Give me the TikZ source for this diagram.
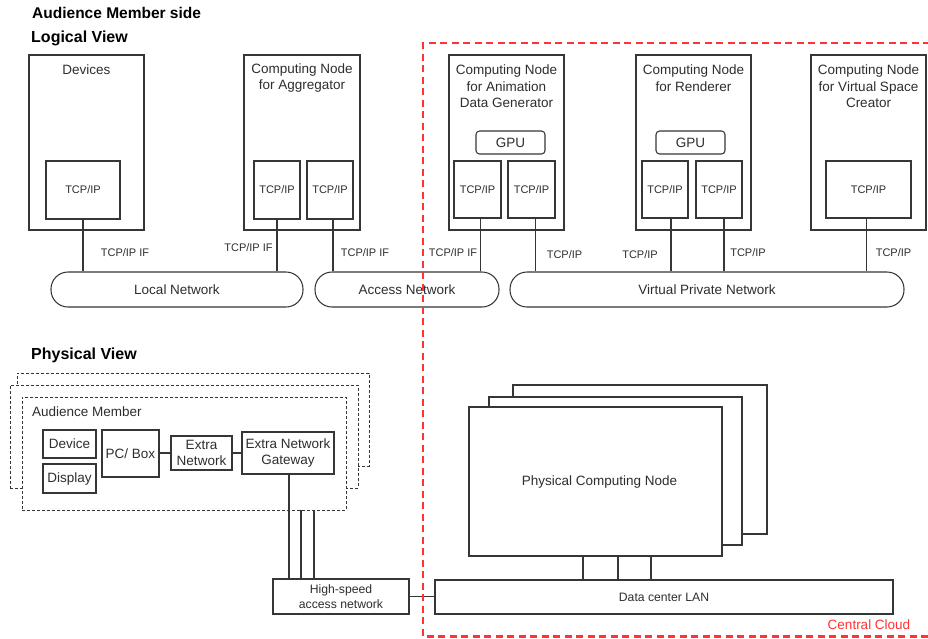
\documentclass[tikz,border=0pt]{standalone}
\usepackage{fontspec}
\setmainfont{Liberation Sans}
\definecolor{linec}{HTML}{363636}
\definecolor{textc}{HTML}{2E2E2E}
\definecolor{cloudred}{HTML}{FF3333}
\begin{document}
\begin{tikzpicture}[x=1pt,y=-1pt,
  box/.style={draw=linec, line width=1.05pt, fill=white, inner sep=0pt},
  dbox/.style={draw=linec, line width=0.9pt, fill=white, inner sep=0pt, dash pattern=on 3pt off 2pt},
  net/.style={box, rounded corners=17pt},
  gpu/.style={box, rounded corners=3.5pt, font=\fontsize{13.5}{16}\selectfont, text=textc},
  txt/.style={font=\fontsize{13.5}{16.5}\selectfont, text=textc, align=center, inner sep=0pt},
  smalltxt/.style={font=\fontsize{11}{13}\selectfont, text=textc, align=center, inner sep=0pt},
  midtxt/.style={font=\fontsize{12.2}{15}\selectfont, text=textc, align=center, inner sep=0pt},
  title/.style={font=\bfseries\fontsize{16}{19}\selectfont, text=black, anchor=west, inner sep=0pt},
  conn/.style={draw=linec, line width=1.05pt},
  reddash/.style={draw=cloudred, line width=2.2pt, dash pattern=on 7pt off 4.5pt}
]
\useasboundingbox (0,0) rectangle (928,638);

% ---------- titles ----------
\node[title, font=\bfseries\fontsize{15.5}{18}\selectfont] (t1) at (32,13) {Audience Member side};
\node[title] (t2) at (31,38) {Logical View};
\node[title] (t3) at (31,355) {Physical View};

% ---------- logical view: host boxes ----------
\node[box, minimum width=115, minimum height=175] (dev) at (86.5,142.5) {};
\node[txt] (devlab) at (86.5,70) {Devices};
\node[box, minimum width=74, minimum height=58, smalltxt] (devtcp) at (83,190) {TCP/IP};

\node[box, minimum width=116, minimum height=175] (agg) at (302,142.5) {};
\node[txt] (agglab) at (302,78) {Computing Node\\for Aggregator};
\node[box, minimum width=46, minimum height=58, smalltxt] (aggtcp1) at (277,190) {TCP/IP};
\node[box, minimum width=46, minimum height=58, smalltxt] (aggtcp2) at (330,190) {TCP/IP};

\node[box, minimum width=115, minimum height=175] (ani) at (506.5,142.5) {};
\node[txt] (anilab) at (506.5,86.5) {Computing Node\\for Animation\\Data Generator};
\node[gpu, minimum width=69, minimum height=23] (gpu1) at (510.5,142.5) {GPU};
\node[box, minimum width=47, minimum height=57, smalltxt] (anitcp1) at (477.5,189.5) {TCP/IP};
\node[box, minimum width=47, minimum height=57, smalltxt] (anitcp2) at (531.5,189.5) {TCP/IP};

\node[box, minimum width=115, minimum height=175] (ren) at (693.5,142.5) {};
\node[txt] (renlab) at (693.5,78) {Computing Node\\for Renderer};
\node[gpu, minimum width=69, minimum height=23] (gpu2) at (690.5,142.5) {GPU};
\node[box, minimum width=46, minimum height=57, smalltxt] (rentcp1) at (665,189.5) {TCP/IP};
\node[box, minimum width=46, minimum height=57, smalltxt] (rentcp2) at (719,189.5) {TCP/IP};

\node[box, minimum width=115, minimum height=175] (vsc) at (868.5,142.5) {};
\node[txt] (vsclab) at (868.5,86.5) {Computing Node\\for Virtual Space\\Creator};
\node[box, minimum width=85, minimum height=57, smalltxt] (vsctcp) at (868.5,189.5) {TCP/IP};

% ---------- logical view: networks ----------
\node[net, minimum width=252, minimum height=35, txt] (local) at (177,289.5) {Local Network};
\node[net, minimum width=184, minimum height=35, txt] (access) at (407,289.5) {Access Network};
\node[net, minimum width=394, minimum height=35, txt] (vpn) at (707,289.5) {Virtual Private Network};

% ---------- logical view: connectors ----------
\draw[conn] (devtcp.south) -- (devtcp.south |- local.north);
\draw[conn] (aggtcp1.south) -- (aggtcp1.south |- local.north);
\draw[conn] ([xshift=3pt]aggtcp2.south) -- ([xshift=3pt]aggtcp2.south |- access.north);
\draw[conn] ([xshift=3pt]anitcp1.south) -- ([xshift=3pt]anitcp1.south |- access.north);
\draw[conn] ([xshift=4pt]anitcp2.south) -- ([xshift=4pt]anitcp2.south |- vpn.north);
\draw[conn] ([xshift=6pt]rentcp1.south) -- ([xshift=6pt]rentcp1.south |- vpn.north);
\draw[conn] ([xshift=5pt]rentcp2.south) -- ([xshift=5pt]rentcp2.south |- vpn.north);
\draw[conn] ([xshift=-2pt]vsctcp.south) -- ([xshift=-2pt]vsctcp.south |- vpn.north);

\node[smalltxt] (l1) at (125,253) {TCP/IP IF};
\node[smalltxt] (l2) at (248.5,248) {TCP/IP IF};
\node[smalltxt] (l3) at (365,253) {TCP/IP IF};
\node[smalltxt] (l4) at (453,253) {TCP/IP IF};
\node[smalltxt] (l5) at (564.5,255) {TCP/IP};
\node[smalltxt] (l6) at (640,255) {TCP/IP};
\node[smalltxt] (l7) at (748,253) {TCP/IP};
\node[smalltxt] (l8) at (893.5,253) {TCP/IP};

% ---------- physical view: audience members ----------
\node[box, minimum width=136, minimum height=35, midtxt] (hs) at (341,596.5) {High-speed\\access network};

\node[dbox, minimum width=352, minimum height=93] (amback) at (193,419.5) {};
\node[dbox, minimum width=348, minimum height=103] (ammid) at (184,436.5) {};
\node[dbox, minimum width=324, minimum height=113] (amfront) at (184,453.5) {};
\node[txt, anchor=west] (amlab) at (32,412) {Audience Member};

\node[box, minimum width=53, minimum height=28, txt] (device) at (69.5,444) {Device};
\node[box, minimum width=53, minimum height=29, txt] (display) at (69.5,478.5) {Display};
\node[box, minimum width=57, minimum height=47, txt] (pc) at (130.5,453.5) {PC/ Box};
\node[box, minimum width=61, minimum height=34, txt] (extra) at (201.5,453) {Extra\\Network};
\node[box, minimum width=92, minimum height=42, txt] (gw) at (288,453) {Extra Network\\Gateway};

\draw[conn] (pc.east |- extra.west) -- (extra.west);
\draw[conn] (extra.east) -- (gw.west |- extra.east);
\draw[conn] ([xshift=1pt]gw.south) -- ([xshift=1pt]gw.south |- hs.north);
\draw[conn] ([xshift=13pt]gw.south |- amfront.south) -- ([xshift=13pt]gw.south |- hs.north);
\draw[conn] ([xshift=26pt]gw.south |- amfront.south) -- ([xshift=26pt]gw.south |- hs.north);

% ---------- physical view: central cloud ----------
\node[box, minimum width=254, minimum height=149] (pcnback) at (640,459.5) {};
\node[box, minimum width=253, minimum height=148] (pcnmid) at (615.5,471) {};
\node[box, minimum width=253, minimum height=149, txt] (pcn) at (595.5,481.5) {\hspace*{8pt}Physical Computing Node};
\node[box, minimum width=458, minimum height=34, midtxt] (lan) at (664,597) {Data center LAN};

\draw[conn] ([xshift=-12.5pt]pcn.south) -- ([xshift=-12.5pt]pcn.south |- lan.north);
\draw[conn] ([xshift=22.5pt]pcn.south) -- ([xshift=22.5pt]pcn.south |- lan.north);
\draw[conn] ([xshift=55.5pt]pcn.south) -- ([xshift=55.5pt]pcn.south |- lan.north);
\draw[conn] (hs.east) -- (lan.west |- hs.east);

% ---------- central cloud frame ----------
\coordinate (cctr) at (930,43);
\coordinate (cctl) at (423,43);
\coordinate (ccbl) at (423,636.5);
\coordinate (ccbr) at (930,636.5);
\draw[reddash] (cctr) -- (cctl) -- (ccbl) -- (ccbr);
\node[txt, text=cloudred] (cclab) at (869,625) {Central Cloud};
\end{tikzpicture}
\end{document}
